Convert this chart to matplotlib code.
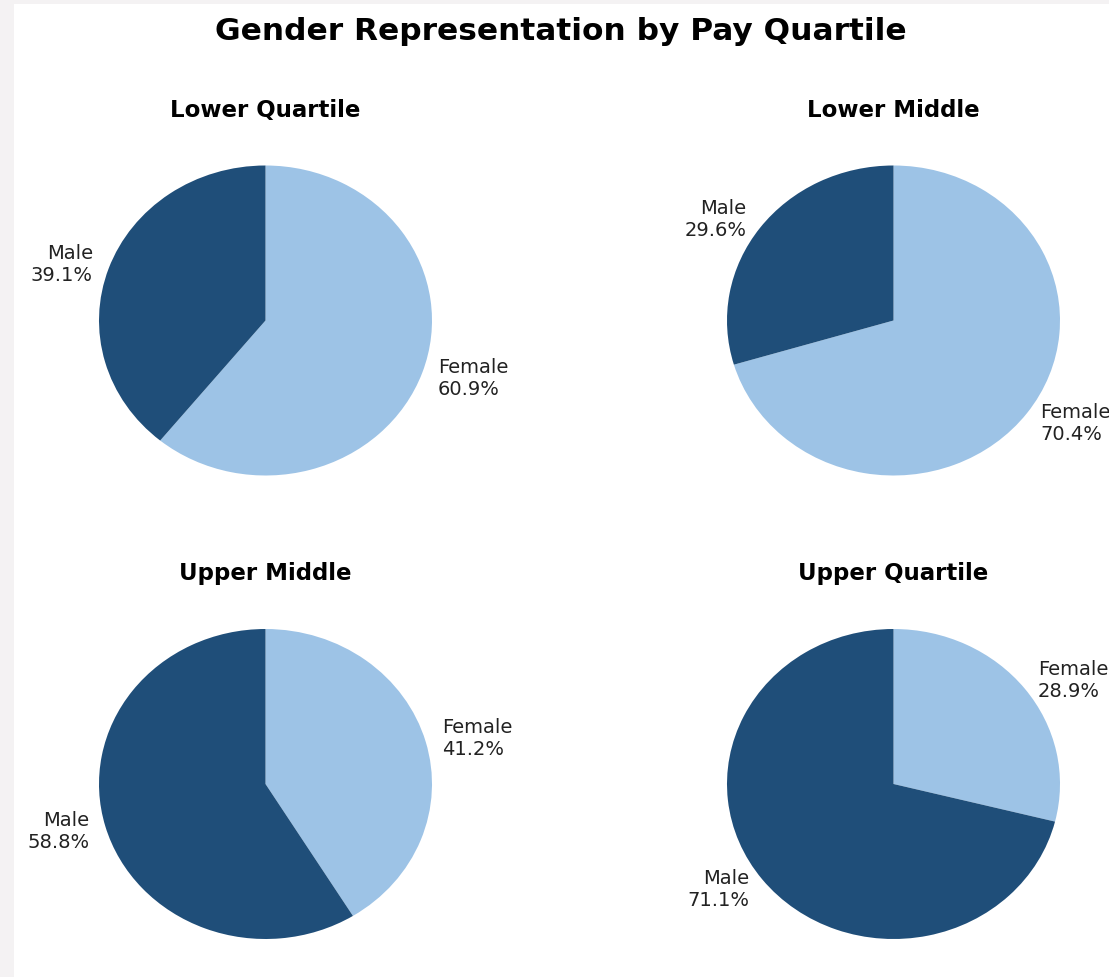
import matplotlib
matplotlib.use("Agg")
import matplotlib.pyplot as plt
from matplotlib.patches import Rectangle

plt.rcParams["font.family"] = ["DejaVu Sans"]

quartiles = ["Lower Quartile", "Lower Middle", "Upper Middle", "Upper Quartile"]
genders = ["Female", "Male"]
female_pct = [60.9, 70.4, 41.2, 28.9]
male_pct = [39.1, 29.6, 58.8, 71.1]
colors = ["#9dc3e6", "#1f4e79"]

W, H = 1109, 978
fig = plt.figure(figsize=(W / 100, H / 100), dpi=100)
fig.patch.set_facecolor("white")
# light gray page margins (screenshot frame)
fig.patches.append(Rectangle((0, 0), 14 / W, 1, transform=fig.transFigure,
                             facecolor="#f4f2f3", edgecolor="none", zorder=-1))
fig.patches.append(Rectangle((0, 1 - 5 / H), 1, 5 / H, transform=fig.transFigure,
                             facecolor="#f4f2f3", edgecolor="none", zorder=-1))

centers = [(265.5, 321.5), (893.5, 321.5), (265.5, 785.0), (893.5, 785.0)]
rx, ry = 166.5, 155.0

for name, f, m, (cx, cy) in zip(quartiles, female_pct, male_pct, centers):
    ax = fig.add_axes([(cx - rx) / W, (H - (cy + ry)) / H, 2 * rx / W, 2 * ry / H])
    vals = [f, m]
    labels = [f"{g}\n{v:.1f}%" for g, v in zip(genders, vals)]
    wedges, texts = ax.pie(vals, labels=labels, colors=colors, startangle=90,
                           counterclock=False, labeldistance=1.1,
                           textprops=dict(fontsize=14, color="#222222"))
    ax.set_aspect("auto")
    ax.set_xlim(-1, 1)
    ax.set_ylim(-1, 1)
    for t in texts:
        t.set_clip_on(False)
    ax.set_title(name, fontsize=16.5, fontweight="bold", y=1.16, pad=0)

fig.text(561 / W, 1 - 31 / H, "Gender Representation by Pay Quartile",
         ha="center", va="center", fontsize=22.5, fontweight="bold")

fig.savefig("out.png", dpi=100)
